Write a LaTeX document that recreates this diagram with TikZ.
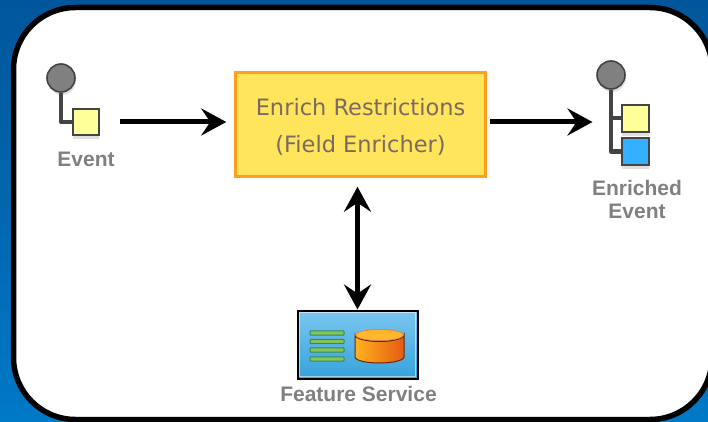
\documentclass[tikz,border=0pt]{standalone}
\usepackage{fontspec}
\setmainfont{Liberation Sans}
\newfontfamily\boxfont{DejaVu Sans}
\usetikzlibrary{arrows.meta,shadows}
\definecolor{bgtop}{HTML}{00569A}
\definecolor{bgbot}{HTML}{0079C6}
\definecolor{wire}{HTML}{444444}
\definecolor{labelgray}{HTML}{808080}
\definecolor{attryellow}{HTML}{FFFF99}
\definecolor{attrblue}{HTML}{33B0FF}
\definecolor{boxfill}{HTML}{FFE55C}
\definecolor{boxedge}{HTML}{FF9E1F}
\definecolor{boxtext}{HTML}{7A6A62}
\definecolor{svcdark}{HTML}{36A2DC}
\definecolor{svclight}{HTML}{7CC6F0}
\definecolor{barfill}{HTML}{86C453}
\definecolor{baredge}{HTML}{2F8A62}
\definecolor{cylleft}{HTML}{FFB21E}
\definecolor{cylmid}{HTML}{FFA51C}
\definecolor{cylright}{HTML}{E65A12}
\definecolor{cyltop}{HTML}{FFB62E}
\tikzset{
    root/.style={circle,draw=wire,line width=1.6pt,fill=labelgray,minimum size=28pt,inner sep=0pt,
        drop shadow={opacity=.25,shadow xshift=1pt,shadow yshift=-3pt}},
    attr/.style={rectangle,draw=wire,line width=1.8pt,minimum size=26.5pt,inner sep=0pt,
        drop shadow={opacity=.25,shadow xshift=0pt,shadow yshift=-4pt}},
    stem/.style={draw=wire,line width=4pt,line join=round},
    flow/.style={line width=5pt,-{Stealth[length=25pt,width=27pt,inset=9pt]}},
    twoway/.style={line width=5pt,{Stealth[length=25pt,width=27pt,inset=9pt]}-{Stealth[length=25pt,width=27pt,inset=9pt]}},
    tag/.style={text=labelgray,font=\bfseries\fontsize{21}{24}\selectfont,align=center,inner sep=0pt},
    boxtag/.style={text=boxtext,font=\boxfont\fontsize{22.5}{26}\selectfont,inner sep=0pt},
    bar/.style={draw=baredge,line width=1pt,fill=barfill,rounded corners=.8pt}
}
\begin{document}
\begin{tikzpicture}[x=1pt,y=-1pt]
        \useasboundingbox (0, 0) rectangle (708, 422);
        \clip (0, 0) rectangle (708, 422);
        % backdrop and panel
        \shade[top color=bgtop,bottom color=bgbot] (0, 0) rectangle (708, 422);
        \draw[line width=5.5pt,fill=white,rounded corners=62pt] (13.5, 7.5) rectangle (712, 419.5);
        % event
        \node[root] (eventroot) at (61, 78) {};
        \node[attr,fill=attryellow] (eventattr) at (86, 122) {};
        \draw[stem] (eventroot.south) |- (eventattr.west);
        \node[tag] (eventlabel) at (86, 159) {Event};
        % enrich processor
        \node[rectangle,draw=boxedge,line width=2.5pt,fill=boxfill,minimum width=250pt,minimum height=104pt,
            inner sep=0pt] (enrich) at (360.5, 124.5) {};
        \node[boxtag] (enrichname) at (360.5, 107) {Enrich Restrictions};
        \node[boxtag] (enrichkind) at (360.5, 145) {(Field Enricher)};
        % enriched event
        \node[root] (outroot) at (611, 75) {};
        \node[attr,fill=attryellow] (outattra) at (635.5, 118.5) {};
        \node[attr,fill=attrblue] (outattrb) at (635.5, 151.5) {};
        \draw[stem] (outroot.south) |- (outattrb.west);
        \draw[stem] (outroot.south |- outattra.west) -- (outattra.west);
        \node[tag] (outlabel) at (637, 199.5) {Enriched\\[-.5pt]Event};
        % feature service
        \node[rectangle,draw=black,line width=2pt,top color=svclight,bottom color=svcdark,minimum width=120pt,
            minimum height=68pt,inner sep=0pt] (service) at (357.5, 344.5) {};
        \draw[white,opacity=.55,line width=1.5pt] (299.5, 312.5) rectangle (415.5, 376.5);
        \foreach \ypos in {333, 341.5, 350, 359} {
            \draw[bar] (310, \ypos-2.2) rectangle (344, \ypos+2.2);
        }
        \path[left color=cylleft,middle color=cylmid,right color=cylright,draw=black!55!cylright,line width=1pt]
            (355, 335) -- (355, 357) arc[start angle=180,end angle=360,x radius=24.5pt,y radius=6pt] -- (404, 335)
            arc[start angle=0,end angle=-180,x radius=24.5pt,y radius=6.5pt] -- cycle;
        \draw[draw=cylright!70!cylleft,fill=cyltop,line width=.5pt] (379.5, 335) ellipse[x radius=24pt,y radius=5.5pt];
        \node[tag] (servicelabel) at (358.5, 393.5) {Feature Service};
        % arrows
        \draw[flow,shorten <=20pt,shorten >=8pt] (eventattr.east) -- (eventattr -| enrich.west);
        \coordinate (outspine) at (outroot |- eventattr);
        \draw[flow,shorten <=3pt,shorten >=18.5pt] (eventattr -| enrich.east) -- (outspine);
        \draw[twoway,shorten <=9pt] (service.north |- enrich.south) -- (service.north);
    \end{tikzpicture}
\end{document}
